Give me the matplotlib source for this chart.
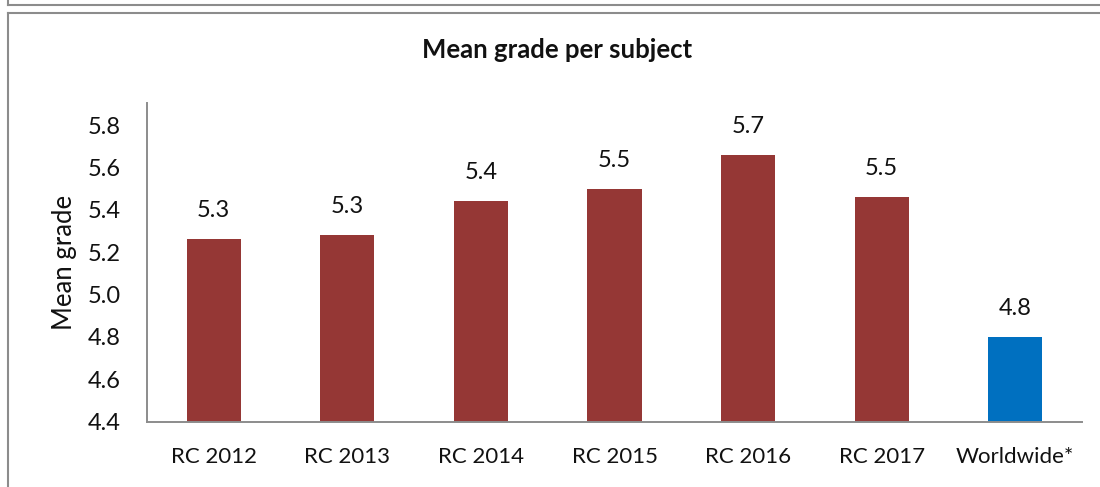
import matplotlib.pyplot as plt
from matplotlib.lines import Line2D

categories = ["RC 2012", "RC 2013", "RC 2014", "RC 2015", "RC 2016", "RC 2017", "Worldwide*"]
mean_grade = [5.26, 5.28, 5.44, 5.50, 5.66, 5.46, 4.80]
bar_colors = ["#953735"] * 6 + ["#0070C0"]
y_ticks = [4.4, 4.6, 4.8, 5.0, 5.2, 5.4, 5.6, 5.8]

plt.rcParams['font.family'] = ['Lato', 'DejaVu Sans']

W, H = 1100, 487
fig = plt.figure(figsize=(W / 100, H / 100), dpi=100)
ax = fig.add_axes([147 / W, 1 - 421.7 / H, (1082 - 147) / W, (421.7 - 103) / H])

x = list(range(len(categories)))
bars = ax.bar(x, mean_grade, width=0.405, color=bar_colors)

for xi, v in zip(x, mean_grade):
    ax.annotate("%.1f" % v, (xi, v), xytext=(0, 13), textcoords="offset points",
                ha="center", va="bottom", fontsize=17, color="#111111")

ax.set_xlim(-0.5, len(categories) - 0.5)
ax.set_ylim(4.4, 5.904)
ax.set_yticks(y_ticks)
ax.set_yticklabels(["%.1f" % t for t in y_ticks])
ax.set_xticks(x)
ax.set_xticklabels(categories)
ax.tick_params(axis="both", length=0, colors="#111111")
ax.tick_params(axis="x", pad=18, labelsize=16)
ax.tick_params(axis="y", pad=19, labelsize=17)

for s in ["top", "right"]:
    ax.spines[s].set_visible(False)
for s in ["left", "bottom"]:
    ax.spines[s].set_color("#8c8c8c")
    ax.spines[s].set_linewidth(1.4)

ax.set_ylabel("Mean grade", fontsize=18.5, color="#111111")
ax.yaxis.set_label_coords(-70 / 935, 0.5)

fig.text(557 / W, 1 - 50 / H, "Mean grade per subject", ha="center", va="center",
         fontsize=18.5, fontweight="bold", color="#111111")

# frame lines from the screenshot
def px_line(x0, y0, x1, y1):
    fig.add_artist(Line2D([x0 / W, x1 / W], [1 - y0 / H, 1 - y1 / H],
                          transform=fig.transFigure, color="#8c8c8c", lw=1.5))

px_line(8, 4.5, W, 4.5)
px_line(8, 0, 8, 4.5)
px_line(8, 12.5, W, 12.5)
px_line(8, 12.5, 8, H)

fig.savefig("out.png", dpi=100)
